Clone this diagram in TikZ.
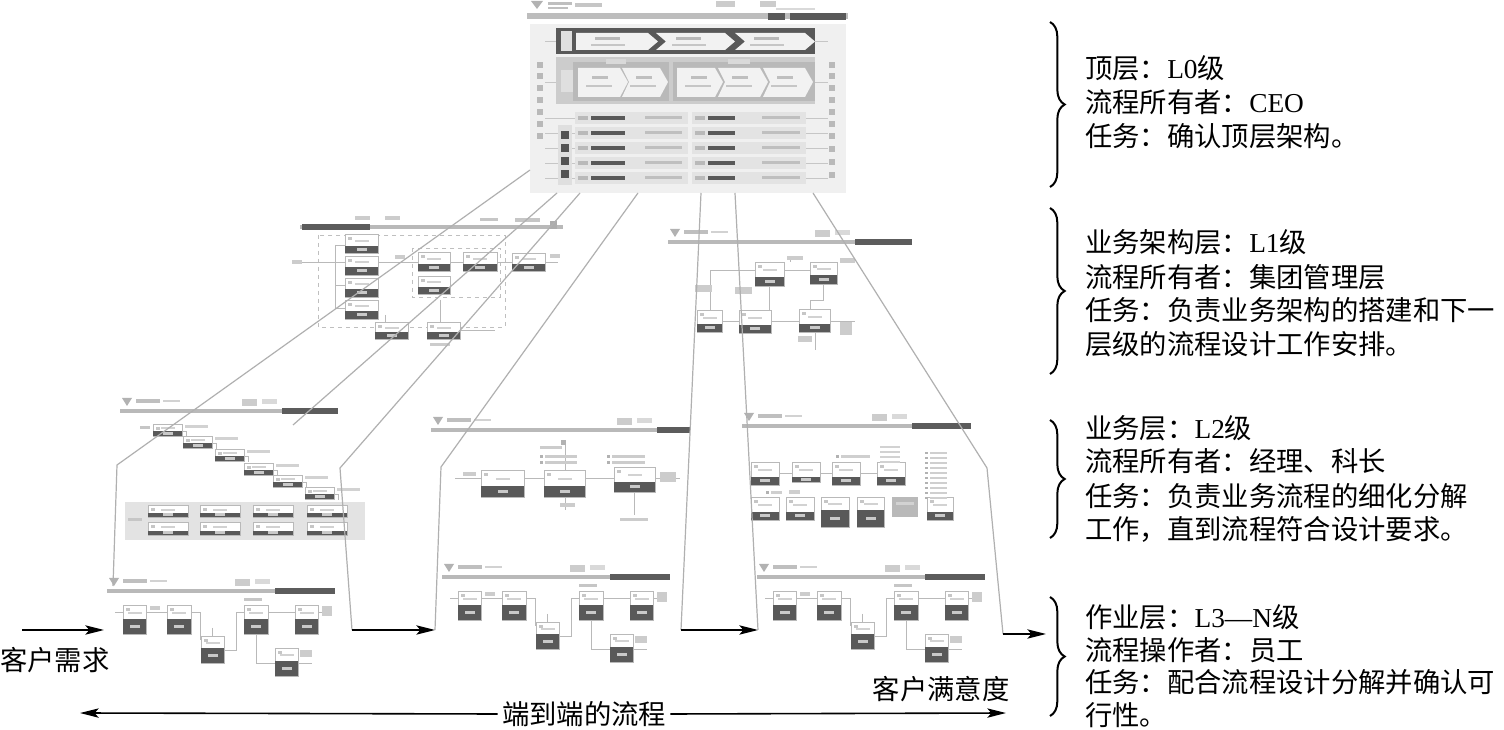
\documentclass[tikz,border=0pt]{standalone}
\usepackage{fontspec}
\setmainfont{Liberation Serif}
\newfontfamily\cjk{Noto Sans CJK SC}
\usetikzlibrary{arrows.meta,decorations.pathreplacing}
\newcommand\pbx[5]{%
  \filldraw[fill=white,draw=gray!55,line width=0.4pt] (#1,#2) rectangle (#3,#4);
  \fill[gray!70!black] (#1,#5) rectangle (#3,#4);
  \fill[gray!42] ({(#1+#3)/2-5},{(#5+#4)/2-1.5}) rectangle ({(#1+#3)/2+5},{(#5+#4)/2+1.5});
  \fill[gray!45] ({#1+3},{#2+3}) rectangle ({#1+7},{#2+6});
  \fill[gray!35] ({(#1+#3)/2-7},{(#2+#5)/2}) rectangle ({(#1+#3)/2+7},{(#2+#5)/2+2});
}
\newcommand\hdrbar[4]{%
  \fill[gray!55] (#1,#3) rectangle (#2,#3+4);
  \fill[gray!72!black] (#4,#3-1) rectangle (#2,#3+5);
  \fill[gray!60] (#1+2,#3-11) -- (#1+12,#3-11) -- (#1+7,#3-3) -- cycle;
  \fill[gray!50] (#1+16,#3-10) rectangle (#1+40,#3-6);
  \fill[gray!35] (#1+43,#3-9) rectangle (#1+60,#3-7);
  \fill[gray!40] (#4-40,#3-10) rectangle (#4-25,#3-3);
  \fill[gray!30] (#4-20,#3-10) rectangle (#4-5,#3-5);
}
\newcommand\lthree[2]{%
  \begin{scope}[shift={(#1,#2)}]
    \hdrbar{107}{335}{589}{275}
    \draw[gray!55,line width=0.35pt] (115,612) -- (123,612) (146,612) -- (167,612) (191,612) -- (200,612) -- (200,640)
      (224,650) -- (236,650) -- (236,612) -- (244,612) (268,612) -- (295,612) (318,612) -- (330,612)
      (256,620) -- (256,663) -- (275,663) (298,663) -- (312,663) (212,628) -- (212,636);
    \pbx{123}{605}{146}{634}{619}
    \pbx{167}{605}{191}{634}{619}
    \pbx{244}{605}{268}{634}{619}
    \pbx{295}{605}{318}{634}{619}
    \pbx{201}{636}{224}{663}{648}
    \pbx{275}{648}{298}{676}{661}
    \fill[gray!45] (244,598) rectangle (262,601);
    \fill[gray!40] (150,606) rectangle (160,610);
    \fill[gray!40] (300,650) rectangle (312,657);
    \fill[gray!40] (322,606) rectangle (332,616);
  \end{scope}
}
\begin{document}
\begin{tikzpicture}[x=0.75pt,y=-0.75pt,
  conn/.style={draw=gray!62,line width=0.9pt},
  flow/.style={draw=gray!55,line width=0.35pt},
  tip/.style={Stealth[length=14pt,width=7pt,inset=3pt]},
  arr/.style={line width=1.2pt,-{Stealth[length=14pt,width=7pt,inset=3pt]}},
  desc/.style={font=\cjk\fontsize{20.5}{24}\selectfont,anchor=west,inner sep=0pt},
  lab/.style={font=\cjk\fontsize{20.5}{24}\selectfont,inner sep=1pt},
  brc/.style={line width=1.5pt,decorate,decoration={brace,amplitude=11pt}}]
\useasboundingbox (0,0) rectangle (1504,730);
\fill[white] (0,0) rectangle (1504,730);

% ================= L0 panel =================
\fill[gray!60] (531,1) -- (543,1) -- (537,9) -- cycle;
\fill[gray!50] (548,2) rectangle (572,5);
\fill[gray!50] (548,7) rectangle (568,9);
\fill[gray!45] (575,3) rectangle (602,7);
\fill[gray!40] (716,1) rectangle (735,7);
\fill[gray!40] (760,1) rectangle (776,7);
\fill[gray!30] (776,8) rectangle (815,10);
\fill[gray!52] (527,13) rectangle (848,19);
\fill[gray!70!black] (768,13) rectangle (785,20);
\fill[gray!70!black] (790,13) rectangle (846,20);
\fill[gray!12] (530,24) rectangle (846,193);
% row 1
\fill[gray!70!black] (556,28) rectangle (815,54);
\fill[gray!25] (561,31) rectangle (572,51);
\fill[gray!10] (576,33) -- (648,33) -- (658,41.5) -- (648,50) -- (576,50) -- cycle;
\fill[gray!10] (656,33) -- (725,33) -- (735,41.5) -- (725,50) -- (656,50) -- (666,41.5) -- cycle;
\fill[gray!10] (735,33) -- (805,33) -- (815,41.5) -- (805,50) -- (735,50) -- (745,41.5) -- cycle;
\foreach \xx in {595,676,754}{
  \fill[gray!55] (\xx,37) rectangle (\xx+25,40);
  \fill[gray!45] (\xx-4,44) rectangle (\xx+30,46);
}
% row 2
\fill[gray!40] (556,57) rectangle (815,104);
\fill[gray!55] (573,62) rectangle (669,101);
\fill[gray!55] (673,62) rectangle (815,101);
\fill[gray!25] (561,70) rectangle (573,92);
\fill[gray!30] (606,59) rectangle (626,64);
\fill[gray!30] (728,59) rectangle (750,64);
\foreach \a/\b/\n in {578/620/0,622/660/1,677/715/0,718/760/1,763/805/1}{
  \ifnum\n=0
    \fill[gray!10] (\a,68) -- (\b,68) -- (\b+8,82) -- (\b,97) -- (\a,97) -- cycle;
  \else
    \fill[gray!10] (\a,68) -- (\b,68) -- (\b+8,82) -- (\b,97) -- (\a,97) -- (\a+7,82) -- cycle;
  \fi
  \fill[gray!50] (\a+14,76) rectangle (\a+30,79);
  \fill[gray!45] (\a+8,85) rectangle (\a+34,87);
}
% rows 3-7
\foreach \yy in {118,133,148,163,178}{
  \draw[gray!45,line width=0.3pt] (545,\yy) -- (575,\yy) (806,\yy) -- (828,\yy);
  \fill[gray!22] (575,\yy-6) rectangle (688,\yy+6);
  \fill[gray!22] (692,\yy-6) rectangle (806,\yy+6);
  \fill[gray!55] (578,\yy-2) rectangle (588,\yy+2);
  \fill[gray!70!black] (591,\yy-2) rectangle (625,\yy+2);
  \fill[gray!50] (645,\yy-2) rectangle (682,\yy+1.5);
  \fill[gray!55] (695,\yy-2) rectangle (705,\yy+2);
  \fill[gray!70!black] (708,\yy-2) rectangle (735,\yy+2);
  \fill[gray!50] (762,\yy-2) rectangle (800,\yy+1.5);
}
\fill[gray!25] (558,125) rectangle (572,185);
\foreach \yy in {131,144,157,170} \fill[gray!65!black] (561,\yy) rectangle (569,\yy+8);
\foreach \yy in {62,73,85,97,109,121,133} \fill[gray!55] (537,\yy) rectangle (543,\yy+6);
\foreach \yy in {62,73,85,97,109,121,133,146,159,172} \fill[gray!55] (829,\yy) rectangle (835,\yy+6);
\draw[gray!45,line width=0.3pt] (545,41) -- (556,41) (815,41) -- (828,41) (545,82) -- (556,82) (815,82) -- (828,82);

% ================= L1 left =================
\fill[gray!40] (355,216) rectangle (370,220);
\fill[gray!40] (385,216) rectangle (400,220);
\fill[gray!45] (480,218) rectangle (498,221);
\fill[gray!45] (515,218) rectangle (540,222);
\fill[gray!55] (300,225) rectangle (563,229);
\fill[gray!72!black] (302,224) rectangle (370,230);
\fill[gray!65] (550,221) rectangle (557,229);
\draw[gray!50,dashed,line width=0.35pt] (318,235) rectangle (505,327);
\draw[gray!50,dashed,line width=0.35pt] (412,248) rectangle (500,297);
\draw[flow] (296,262) -- (345,262) (335,245) -- (335,308) -- (345,308) (335,285) -- (345,285) (335,245) -- (345,245)
  (378,262) -- (418,262) (450,262) -- (463,262) (497,262) -- (512,262) (545,262) -- (558,262)
  (385,315) -- (385,322) (440,300) -- (440,322) (460,330) -- (495,330);
\pbx{345}{234}{378}{253}{246}
\pbx{345}{256}{378}{275}{267}
\pbx{345}{278}{378}{297}{289}
\pbx{345}{300}{378}{319}{311}
\pbx{418}{252}{450}{271}{264}
\pbx{463}{252}{497}{271}{264}
\pbx{418}{276}{450}{294}{287}
\pbx{512}{253}{545}{271}{264}
\pbx{375}{322}{408}{339}{332}
\pbx{427}{322}{460}{339}{332}
\fill[gray!40] (292,260) rectangle (302,264);
\fill[gray!40] (395,255) rectangle (405,259);
\fill[gray!40] (550,254) rectangle (560,258);
\fill[gray!40] (430,343) rectangle (450,346);

% ================= L1 right =================
\hdrbar{668}{912}{240}{855}
\draw[flow] (710,310) -- (710,270) -- (755,270) (784,270) -- (810,270) (722,321) -- (739,321)
  (771,321) -- (799,321) (830,321) -- (855,321) (769,286) -- (769,310) (823,284) -- (823,300) -- (810,300) -- (810,309)
  (790,258) -- (790,262) (815,332) -- (815,350);
\pbx{755}{262}{784}{286}{277}
\pbx{810}{262}{837}{284}{275}
\pbx{697}{310}{722}{332}{324}
\pbx{739}{310}{771}{333}{325}
\pbx{799}{309}{830}{332}{324}
\fill[gray!40] (695,285) rectangle (712,292);
\fill[gray!40] (735,287) rectangle (752,294);
\fill[gray!40] (787,256) rectangle (803,260);
\fill[gray!40] (840,258) rectangle (855,263);
\fill[gray!40] (840,322) rectangle (852,335);
\fill[gray!40] (798,336) rectangle (812,342);

% ================= L2 left =================
\hdrbar{120}{338}{409}{282}
\foreach \xx/\yy in {153/431,183/443,215/456,244/470,273/482,305/494}{
  \draw[flow] (\xx+29,\yy) -- (\xx+33,\yy) -- (\xx+33,\yy+6);
  \pbx{\xx}{\yy-7}{\xx+29}{\yy+5}{\yy}
  \fill[gray!35] (\xx+32,\yy-6) rectangle (\xx+55,\yy-3);
}
\fill[gray!45] (140,426) rectangle (150,429);
\fill[gray!22] (125,502) rectangle (365,540);
\fill[gray!45] (128,518) rectangle (142,521);
\foreach \xx in {148,200,253,307}{
  \pbx{\xx}{505}{\xx+40}{517}{513}
  \pbx{\xx}{522}{\xx+40}{535}{531}
}

% ================= L2 middle =================
\hdrbar{431}{690}{428}{657}
\draw[flow] (455,478) -- (481,478) (524,478) -- (544,478) (585,478) -- (614,478) (655,478) -- (680,478)
  (634,492) -- (634,515) (565,497) -- (565,510) (565,445) -- (565,470);
\pbx{481}{470}{524}{497}{486}
\pbx{544}{470}{585}{497}{486}
\pbx{614}{467}{655}{492}{482}
\fill[gray!60] (561,440) rectangle (566,445);
\fill[gray!40] (540,446) rectangle (562,449);
\foreach \yy in {455,461}{
  \fill[gray!60] (540,\yy) rectangle (543,\yy+3);
  \fill[gray!40] (545,\yy) rectangle (577,\yy+3);
  \fill[gray!60] (607,\yy) rectangle (610,\yy+3);
  \fill[gray!40] (612,\yy) rectangle (645,\yy+3);
}
\fill[gray!40] (463,472) rectangle (476,476);
\fill[gray!40] (660,472) rectangle (676,482);
\fill[gray!40] (560,503) rectangle (575,507);
\fill[gray!40] (620,518) rectangle (648,521);

% ================= L2 right =================
\hdrbar{742}{971}{424}{912}
\draw[flow] (779,473) -- (792,473) (820,473) -- (832,473) (860,473) -- (877,473);
\pbx{751}{462}{779}{485}{477}
\pbx{792}{462}{820}{482}{477}
\pbx{832}{462}{860}{485}{477}
\pbx{877}{462}{905}{485}{477}
\pbx{751}{497}{779}{520}{512}
\pbx{786}{497}{814}{520}{512}
\pbx{821}{497}{849}{527}{510}
\pbx{857}{497}{884}{527}{510}
\fill[gray!55] (892,497) rectangle (918,517);
\fill[gray!35] (896,502) rectangle (914,505);
\pbx{927}{497}{953}{520}{512}
\foreach \yy in {452,457,...,497}{
  \fill[gray!60] (925,\yy) rectangle (928,\yy+2.5);
  \fill[gray!38] (930,\yy) rectangle (947,\yy+2.5);
}
\foreach \yy in {446,451,456,461}{
  \fill[gray!35] (880,\yy) rectangle (900,\yy+2.5);
}
\fill[gray!60] (836,455) rectangle (839,458);
\fill[gray!38] (841,455) rectangle (870,458);
\fill[gray!60] (766,491) rectangle (769,494);
\fill[gray!38] (771,491) rectangle (782,494);
\fill[gray!38] (789,490) rectangle (800,494);

% ================= L3 =================
\lthree{0}{0}
\lthree{335}{-14}
\lthree{650}{-14}

% ================= connectors =================
\coordinate (a0) at (530,170);
\coordinate (a1) at (117,465);
\coordinate (a2) at (113,586);
\coordinate (b0) at (557,193);
\coordinate (b1) at (293,425);
\coordinate (c0) at (580,193);
\coordinate (c1) at (340,468);
\coordinate (c2) at (352,630);
\coordinate (d0) at (638,193);
\coordinate (d1) at (441,467);
\coordinate (d2) at (435,630);
\coordinate (e0) at (701,193);
\coordinate (e1) at (681,630);
\coordinate (f0) at (735,193);
\coordinate (f1) at (758,630);
\coordinate (g0) at (813,193);
\coordinate (g1) at (987,468);
\coordinate (g2) at (1003,634);
\coordinate (h0) at (1046,634);
\coordinate (in0) at (22,630);
\coordinate (in1) at (104,630);
\draw[conn] (a0) -- (a1) -- (a2);
\draw[conn] (b0) -- (b1);
\draw[conn] (c0) -- (c1) -- (c2);
\draw[conn] (d0) -- (d1) -- (d2);
\draw[conn] (e0) -- (e1);
\draw[conn] (f0) -- (f1);
\draw[conn] (g0) -- (g1) -- (g2);

\draw[arr] (in0) -- (in1);
\draw[arr] (c2) -- (d2);
\draw[arr] (e1) -- (f1);
\draw[arr] (g2) -- (h0);

% ================= bottom labels =================
\node[lab] (req) at (55,660) {客户需求};
\node[lab] (sat) at (941,689) {客户满意度};
\node[lab,fill=white,inner sep=3pt] (e2e) at (584,714) {端到端的流程};
\coordinate (ea) at (80,713);
\coordinate (eb) at (1006,713);
\draw[line width=1.2pt,{Stealth[length=14pt,width=7pt,inset=3pt]}-] (ea) -- (e2e.west);
\draw[line width=1.2pt,-{Stealth[length=14pt,width=7pt,inset=3pt]}] (e2e.east) -- (eb);

% ================= braces =================
\draw[brc] (1050,22) -- (1050,187);
\draw[brc] (1050,208) -- (1050,374);
\draw[brc] (1050,420) -- (1050,538);
\draw[brc] (1050,597) -- (1050,716);

% ================= descriptions =================
\node[desc] (t01) at (1085,68) {顶层：{\rmfamily L0}级};
\node[desc] (t02) at (1085,102) {流程所有者：{\rmfamily CEO}};
\node[desc] (t03) at (1085,136) {任务：确认顶层架构。};
\node[desc] (t11) at (1085,242) {业务架构层：{\rmfamily L1}级};
\node[desc] (t12) at (1085,277) {流程所有者：集团管理层};
\node[desc] (t13) at (1085,310) {任务：负责业务架构的搭建和下一};
\node[desc] (t14) at (1085,344) {层级的流程设计工作安排。};
\node[desc] (t21) at (1085,428) {业务层：{\rmfamily L2}级};
\node[desc] (t22) at (1085,461) {流程所有者：经理、科长};
\node[desc] (t23) at (1085,496) {任务：负责业务流程的细化分解};
\node[desc] (t24) at (1085,529) {工作，直到流程符合设计要求。};
\node[desc] (t31) at (1085,617) {作业层：{\rmfamily L3—N}级};
\node[desc] (t32) at (1085,650) {流程操作者：员工};
\node[desc] (t33) at (1085,682) {任务：配合流程设计分解并确认可};
\node[desc] (t34) at (1085,715) {行性。};
\end{tikzpicture}
\end{document}
